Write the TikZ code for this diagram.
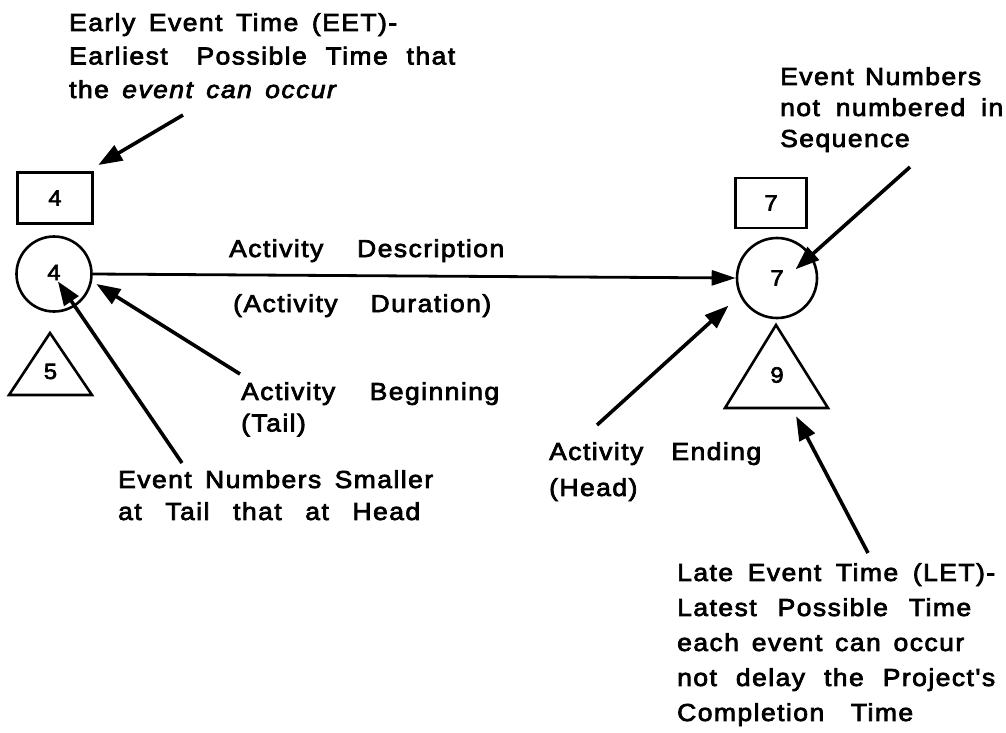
\documentclass[tikz,border=0pt]{standalone}
\usepackage{fontspec}
\newfontfamily\hv{Liberation Sans}[Ligatures=TeXOff,LetterSpace=6,FakeStretch=1.08,
  BoldFont={Liberation Sans},BoldFeatures={FakeBold=3},
  BoldItalicFont={Liberation Sans Italic},BoldItalicFeatures={FakeBold=3}]
\usetikzlibrary{arrows.meta}
% one line of a note, spread to a given width
\newcommand{\fitline}[2]{\makebox[#1][s]{#2}}
% text font at a given size and line distance
\newcommand{\hvat}[2]{\hv\bfseries\fontsize{#1}{#2}\selectfont}
\tikzset{
  pic/.style={x=1pt,y=-1pt},
  note/.style={anchor=north west,inner sep=0pt,align=left},
  lbl/.style={inner sep=0pt,font=\hvat{24.5}{30}},
  num/.style={inner sep=0pt,font=\hvat{22}{26}},
  timebox/.style={draw,line width=2.6pt,inner sep=0pt,font=\hvat{22}{26}},
  event/.style={draw,circle,line width=2.6pt,inner sep=0pt,font=\hvat{22}{26}},
  tri/.style={line width=2.6pt,line join=miter},
  ptr/.style={line width=3.6pt,-{Triangle[length=24pt,width=17pt]},shorten >=-2pt},
  act/.style={line width=2.8pt,-{Triangle[length=24pt,width=15pt]}}
}
\begin{document}
\begin{tikzpicture}[pic]
\useasboundingbox (0,0) rectangle (1006,732);

% events with their time boxes
\node[event,minimum size=75pt] (e4) at (54,274) {\raisebox{3pt}{4}};
\node[timebox,minimum width=75pt,minimum height=51pt] (b4) at (55,198) {4};
\node[event,minimum size=80pt] (e7) at (777,278) {7};
\node[timebox,minimum width=71pt,minimum height=50pt] (b7) at (771,203) {7};

% late event time triangles
\draw[tri] (9,395) -- (50,333) -- (92,395) -- cycle;
\node[num] (t5) at (50.5,371.5) {5};
\draw[tri] (725,408) -- (776,325) -- (828,408) -- cycle;
\node[num] (t9) at (777,375) {9};

% activity arrow
\draw[act] (e4.east) -- (e7.west);
\node[lbl,anchor=base west] (desc) at (229,257) {\fitline{275pt}{Activity Description}};
\node[lbl,anchor=base west] (dur) at (233,312) {\fitline{258pt}{(Activity Duration)}};

% notes
\node[note,font=\hvat{24.5}{33.5}] (eet) at (69,13)
  {\fitline{328pt}{Early Event Time (EET)-}\\
   \fitline{386pt}{Earliest\hspace{10pt} Possible Time that}\\
   \fitline{269pt}{the \textit{event can occur}}};
\node[note,font=\hvat{24.5}{31}] (seq) at (780,67)
  {\fitline{201pt}{Event Numbers}\\
   \fitline{223pt}{not numbered in}\\
   Sequence};
\node[note,font=\hvat{24.5}{31.5}] (beg) at (241,382)
  {\fitline{258pt}{Activity Beginning}\\(Tail)};
\node[note,font=\hvat{24.5}{32}] (small) at (118,470)
  {\fitline{315pt}{Event Numbers Smaller}\\
   \fitline{302pt}{at Tail that at Head}};
\node[note,font=\hvat{24.5}{36}] (end) at (549,442)
  {\fitline{212pt}{Activity Ending}\\(Head)};
\node[note,font=\hvat{24.5}{35}] (let) at (677,563)
  {\fitline{318pt}{Late Event Time (LET)-}\\
   \fitline{294pt}{Latest Possible Time}\\
   \fitline{287pt}{each event can occur}\\
   \fitline{318pt}{not delay the Project's}\\
   \fitline{236pt}{Completion Time}};

% pointer ends
\coordinate (eetFrom) at (183,115);
\coordinate (eetTo) at (100,164);
\coordinate (seqFrom) at (910,167);
\coordinate (seqTo) at (797,268);
\coordinate (begFrom) at (240,374);
\coordinate (begTo) at (98,285);
\coordinate (smallFrom) at (182,463);
\coordinate (smallTo) at (59,283);
\coordinate (endFrom) at (597,425);
\coordinate (endTo) at (727,307);
\coordinate (letFrom) at (868,553);
\coordinate (letTo) at (797,418);

\draw[ptr] (eetFrom) -- (eetTo);
\draw[ptr] (seqFrom) -- (seqTo);
\draw[ptr] (begFrom) -- (begTo);
\draw[ptr] (smallFrom) -- (smallTo);
\draw[ptr] (endFrom) -- (endTo);
\draw[ptr] (letFrom) -- (letTo);
\end{tikzpicture}
\end{document}
